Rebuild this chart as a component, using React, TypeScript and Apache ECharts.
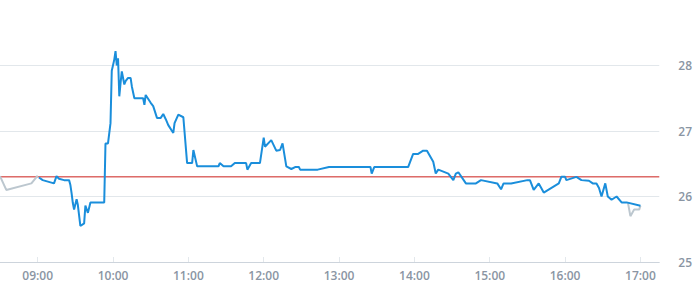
import React, { useEffect, useRef } from "react";
import * as echarts from "echarts";

const preTimes = ["08:30", "08:35", "08:55", "09:00"];
const preValues = [26.31, 26.1, 26.2, 26.32];

const mainTimes = [
  "09:01", "09:04", "09:13", "09:15", "09:17", "09:21", "09:25", "09:26", "09:27", "09:28",
  "09:29", "09:31", "09:32", "09:34", "09:37", "09:38", "09:40", "09:42", "09:53", "09:54",
  "09:56", "09:58", "09:59", "10:01", "10:02", "10:03", "10:04", "10:05", "10:06", "10:07",
  "10:09", "10:10", "10:12", "10:14", "10:15", "10:17", "10:24", "10:25", "10:26", "10:30",
  "10:32", "10:35", "10:38", "10:40", "10:42", "10:44", "10:48", "10:49", "10:52", "10:56",
  "10:59", "11:03", "11:04", "11:07", "11:24", "11:25", "11:28", "11:34", "11:37", "11:46",
  "11:47", "11:50", "11:57", "12:00", "12:01", "12:06", "12:10", "12:13", "12:15", "12:18",
  "12:22", "12:25", "12:28", "12:29", "12:43", "12:52", "13:25", "13:26", "13:28", "13:55",
  "13:59", "14:03", "14:07", "14:10", "14:15", "14:17", "14:19", "14:27", "14:31", "14:33",
  "14:35", "14:41", "14:49", "14:53", "15:06", "15:09", "15:11", "15:17", "15:30", "15:32",
  "15:35", "15:39", "15:43", "15:55", "15:57", "16:00", "16:01", "16:09", "16:13", "16:19",
  "16:22", "16:25", "16:27", "16:29", "16:32", "16:34", "16:37", "16:41", "16:45", "16:49",
  "17:00",
];
const mainValues = [
  26.29, 26.25, 26.2, 26.31, 26.27, 26.25, 26.25, 26.18, 26.05, 25.9,
  25.8, 25.96, 25.87, 25.55, 25.59, 25.86, 25.75, 25.91, 25.91, 26.81,
  26.81, 27.12, 27.92, 28.09, 28.22, 28.0, 28.11, 27.53, 27.73, 27.91,
  27.71, 27.76, 27.81, 27.81, 27.68, 27.5, 27.5, 27.4, 27.55, 27.43,
  27.38, 27.2, 27.2, 27.26, 27.18, 27.09, 26.97, 27.12, 27.25, 27.21,
  26.51, 26.51, 26.71, 26.46, 26.46, 26.51, 26.46, 26.46, 26.51, 26.51,
  26.41, 26.51, 26.51, 26.9, 26.76, 26.86, 26.7, 26.71, 26.81, 26.46,
  26.42, 26.45, 26.45, 26.41, 26.41, 26.45, 26.45, 26.35, 26.45, 26.45,
  26.65, 26.65, 26.7, 26.7, 26.53, 26.35, 26.41, 26.35, 26.25, 26.35,
  26.37, 26.2, 26.2, 26.25, 26.2, 26.11, 26.2, 26.2, 26.25, 26.25,
  26.1, 26.2, 26.06, 26.2, 26.3, 26.3, 26.25, 26.3, 26.25, 26.24,
  26.2, 26.2, 26.13, 26.0, 26.2, 26.0, 25.95, 26.0, 25.91, 25.91,
  25.86,
];

const postTimes = ["16:50", "16:52", "16:55", "16:59", "17:00"];
const postValues = [25.91, 25.7, 25.8, 25.8, 25.86];

const hourTicks = ["09:00", "10:00", "11:00", "12:00", "13:00", "14:00", "15:00", "16:00", "17:00"];
const yTicks = [25, 26, 27, 28];
const previousClose = 26.3;
const axisStart = "08:30";
const axisEnd = "17:15";

const toMin = (t: string) => {
  const [h, m] = t.split(":").map(Number);
  return h * 60 + m;
};
const fmt = (v: number) => {
  const h = Math.floor(v / 60);
  const m = Math.round(v % 60);
  return `${String(h).padStart(2, "0")}:${String(m).padStart(2, "0")}`;
};
const pairs = (ts: string[], vs: number[]) => ts.map((t, i) => [toMin(t), vs[i]]);

export default function App() {
  const ref = useRef<HTMLDivElement>(null);
  useEffect(() => {
    if (!ref.current) return;
    const chart = echarts.init(ref.current, undefined, { renderer: "svg" });
    const tickVals = hourTicks.map(toMin);
    const labelStyle = {
      color: "#8a95a3",
      fontFamily: "Open Sans",
      fontWeight: 600,
      fontSize: 12,
    };
    chart.setOption({
      animation: false,
      grid: { left: 0, right: 31, top: 0, bottom: 38, containLabel: false },
      xAxis: {
        type: "value",
        min: toMin(axisStart),
        max: toMin(axisEnd),
        axisLine: { show: true, lineStyle: { color: "#cdd4dc", width: 1 } },
        axisTick: {
          show: true,
          inside: true,
          length: 5,
          customValues: tickVals,
          lineStyle: { color: "#e3e8ec" },
        },
        axisLabel: {
          ...labelStyle,
          customValues: tickVals,
          formatter: (v: number) => fmt(v),
          margin: 7,
        },
        splitLine: { show: false },
      },
      yAxis: {
        type: "value",
        position: "right",
        min: yTicks[0],
        max: 29,
        interval: 1,
        axisLine: { show: false },
        axisTick: { show: false },
        axisLabel: {
          ...labelStyle,
          showMaxLabel: false,
          margin: 19,
        },
        splitLine: {
          show: true,
          showMaxLine: false,
          showMinLine: false,
          lineStyle: { color: "#e2e7eb", width: 1 },
        },
      },
      series: [
        {
          type: "line",
          data: [
            [toMin(axisStart), previousClose],
            [toMin(axisEnd), previousClose],
          ],
          showSymbol: false,
          silent: true,
          lineStyle: { color: "#cc1f1a", width: 1 },
          itemStyle: { color: "#cc1f1a" },
          z: 1,
        },
        {
          type: "line",
          data: pairs(preTimes, preValues),
          showSymbol: false,
          lineStyle: { color: "#bcc7cf", width: 2 },
          itemStyle: { color: "#bcc7cf" },
          z: 2,
        },
        {
          type: "line",
          data: pairs(postTimes, postValues),
          showSymbol: false,
          lineStyle: { color: "#bcc7cf", width: 2 },
          itemStyle: { color: "#bcc7cf" },
          z: 2,
        },
        {
          type: "line",
          data: pairs(mainTimes, mainValues),
          showSymbol: false,
          lineStyle: { color: "#1a8edb", width: 2 },
          itemStyle: { color: "#1a8edb" },
          z: 3,
        },
      ],
    });
    return () => chart.dispose();
  }, []);
  return (
    <div
      ref={ref}
      style={{ position: "absolute", left: 0, top: 0, width: 695, height: 300 }}
    />
  );
}
